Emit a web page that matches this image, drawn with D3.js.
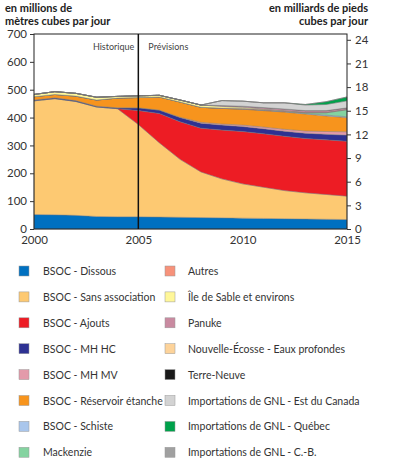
<!DOCTYPE html>
<html><head><meta charset="utf-8">
<script src="https://cdn.jsdelivr.net/npm/d3@7"></script>
<style>body{margin:0;background:#fff}text{font-family:Lato,sans-serif}</style>
</head><body><svg id="c" width="400" height="464"></svg>
<script>
const years = d3.range(2000, 2016);
const seriesNames = ["BSOC - Dissous","BSOC - Sans association","BSOC - Ajouts","BSOC - MH HC","BSOC - MH MV","BSOC - Réservoir étanche","BSOC - Schiste","Mackenzie","Autres","Île de Sable et environs","Panuke","Nouvelle-Écosse - Eaux profondes","Terre-Neuve","Importations de GNL - Est du Canada","Importations de GNL - Québec","Importations de GNL - C.-B."];
const colors = ["#0070c0","#fdc972","#ed1c24","#2e3192","#e39aaa","#f7941d","#a9c6ec","#84d3a0","#f7927a","#fff799","#c98aa0","#fdd39a","#1a1a1a","#d3d3d3","#00a14b","#a0a0a0"];
const dissous   = [52,51,49,45,44,44,43,42,41,40,39,38,37,36,35,34];
const sansAssoc = [408,417,409,393,388,331,267,208,164,140,123,112,101,94,89,84];
const ajouts    = [0,0,0,0,0,50,105,135,157,175,188,192,195,195,196,197];
const mhHC      = [3,3,3,3,3,10,12,15,18,18,18,18,18,19,20,22];
const mhMV      = [0,0,0,0,0,0,0,1,3,4,5,6,7,8,10,12];
const reservoir = [12,12,16,22,35,37,47,55,54,56,57,59,62,61,56,51];
const schiste   = [0,0,0,0,0,0,0,0,0,0,1,2,2,2,3,3];
const mackenzie = [0,0,0,0,0,0,0,0,0,0,0,0,0,2,8,25];
const autres    = [0,0,0,0,0,0,0,0,0,1,2,2,2,2,2,2];
const ileSable  = [8,10,10,10,6,6,6,7,8,6,4,2,1,0,0,0];
const panuke    = [0,0,0,0,0,0,0,0,0,3,4,5,6,6,6,5];
const eauxProf  = [0,0,0,0,0,0,0,0,0,0,0,0,0,0,0,0];
const terreNeuve= [0,0,0,0,0,0,0,0,0,0,0,0,0,0,0,0];
const gnlEst    = [0,0,0,0,0,0,0,0,0,18,18,17,22,20,22,25];
const gnlQuebec = [0,0,0,0,0,0,0,0,0,0,0,0,0,2,10,14];
const gnlCB     = [0,0,0,0,0,0,0,0,0,0,0,0,0,0,0,0];
const allSeries = [dissous,sansAssoc,ajouts,mhHC,mhMV,reservoir,schiste,mackenzie,autres,ileSable,panuke,eauxProf,terreNeuve,gnlEst,gnlQuebec,gnlCB];
const leftTicks = [0,100,200,300,400,500,600,700];
const rightTicks = [0,3,6,9,12,15,18,21,24];
const xTicks = [2000,2005,2010,2015];

const svg = d3.select("#c");
const L=34,R=347,T=34,B=229;
const x = d3.scaleLinear().domain([2000,2015]).range([L,R]);
const y = d3.scaleLinear().domain([0,700]).range([B,T]);
const y2 = d3.scaleLinear().domain([0,700/28.3]).range([B,T]);

const table = years.map((yr,i)=>{const o={year:yr}; seriesNames.forEach((n,j)=>o[n]=allSeries[j][i]); return o;});
const stack = d3.stack().keys(seriesNames)(table);
const area = d3.area().x(d=>x(d.data.year)).y0(d=>y(d[0])).y1(d=>y(d[1]));
svg.append("g").selectAll("path").data(stack).join("path")
  .attr("d",area).attr("fill",(d,i)=>colors[i]).attr("stroke","#777").attr("stroke-width",0.4);

svg.append("rect").attr("x",L).attr("y",T).attr("width",R-L).attr("height",B-T).attr("fill","none").attr("stroke","#222").attr("stroke-width",1);
svg.append("line").attr("x1",x(2005)).attr("x2",x(2005)).attr("y1",T).attr("y2",B).attr("stroke","#111").attr("stroke-width",1.5);
svg.append("text").attr("x",x(2005)-4).attr("y",50).attr("text-anchor","end").attr("font-size",9).attr("fill","#444").text("Historique");
svg.append("text").attr("x",x(2005)+10).attr("y",50).attr("font-size",9).attr("fill","#444").text("Prévisions");

const ax = g=>{g.select(".domain").remove(); g.selectAll("line").attr("stroke","#333"); g.selectAll("text").attr("font-size",11.5).attr("fill","#333");};
svg.append("g").attr("transform",`translate(${L},0)`).call(d3.axisLeft(y).tickValues(leftTicks).tickSize(4).tickPadding(3)).call(ax);
svg.append("g").attr("transform",`translate(${R},0)`).call(d3.axisRight(y2).tickValues(rightTicks).tickSize(4).tickPadding(4)).call(ax);
svg.append("g").attr("transform",`translate(0,${B+3})`).call(d3.axisBottom(x).tickValues(xTicks).tickFormat(d3.format("d")).tickSize(0).tickPadding(4)).call(ax);

const tt = svg.append("g").attr("font-size",11).attr("font-weight","bold").attr("fill","#222");
tt.append("text").attr("x",5).attr("y",12).text("en millions de");
tt.append("text").attr("x",5).attr("y",25).text("mètres cubes par jour");
tt.append("text").attr("x",368).attr("y",12).attr("text-anchor","end").text("en milliards de pieds");
tt.append("text").attr("x",368).attr("y",25).attr("text-anchor","end").text("cubes par jour");

const lg = svg.append("g");
seriesNames.forEach((n,i)=>{
  const col = i<8?0:1, row=i%8;
  const cy = 271 + row*25.9;
  const sx = col?165:19, tx = col?188:43;
  lg.append("rect").attr("x",sx).attr("y",cy-5).attr("width",10).attr("height",10).attr("fill",colors[i]).attr("stroke","#999").attr("stroke-width",0.5);
  lg.append("text").attr("x",tx).attr("y",cy+4).attr("font-size",10.5).attr("fill","#333").text(n);
});
</script></body></html>
